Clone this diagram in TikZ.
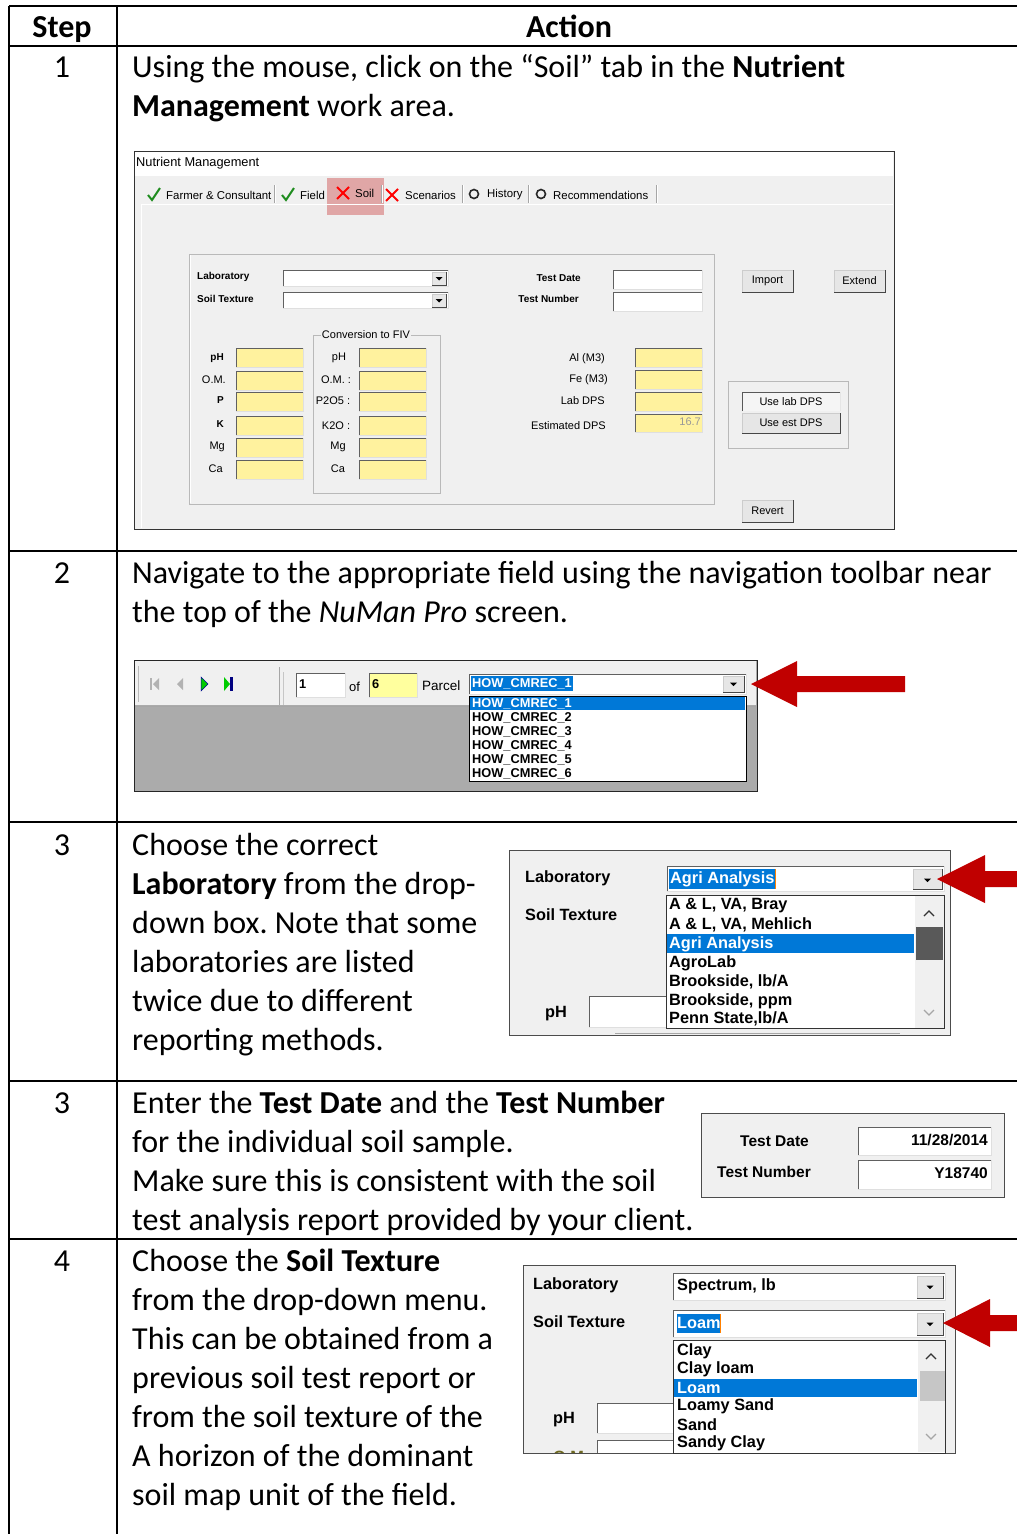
\documentclass[tikz,border=0pt]{standalone}
\usepackage{fontspec}
\setmainfont{Carlito}
\newfontfamily\uifont{Liberation Sans}
\frenchspacing
\definecolor{wingray}{HTML}{F0F0F0}
\definecolor{fieldyel}{HTML}{FFF29E}
\definecolor{lightyel}{HTML}{FFFF9E}
\definecolor{selblue}{HTML}{0078D7}
\definecolor{arrowred}{HTML}{C00000}
\definecolor{darkarea}{HTML}{ABABAB}
\definecolor{pinkhl}{HTML}{E0A6A6}
\definecolor{btnfill}{HTML}{E6E6E6}
\definecolor{okgreen}{HTML}{1E8C1E}
\newcommand\sunk[5][white]{%
  \fill[#1] (#2,#3) rectangle (#4,#5);
  \draw[gray!75!black] (#2,#5) -- (#2,#3) -- (#4,#3);
  \draw[gray!25] (#4,#3) -- (#4,#5) -- (#2,#5);}
\newcommand\wbtn[4]{%
  \fill[btnfill] (#1,#2) rectangle (#3,#4);
  \draw[gray!40] (#1,#4) -- (#1,#2) -- (#3,#2);
  \draw[gray!55!black] (#1,#4) -- (#3,#4) -- (#3,#2);}
\newcommand\ddtri[2]{\fill[shift={(#1,#2)}] (-3.5,-1.5) -- (3.5,-1.5) -- (0,2) -- cycle;}
\newcommand\redx[2]{\draw[red, line width=2pt, shift={(#1,#2)}] (-6,-6) -- (6,6) (-6,6) -- (6,-6);}
\newcommand\okmark[2]{\draw[okgreen, line width=2pt, shift={(#1,#2)}] (-6,0) -- (-2,5) -- (6,-7);}
\newcommand\ringicon[2]{\draw[black!85, line width=1.6pt, shift={(#1,#2)}] (0,0) circle (4.5);}
\newcommand\tabsep[1]{\draw[gray!70] (#1,185) -- (#1,203); \draw[white] (#1+1,185) -- (#1+1,203);}
\begin{document}
\begin{tikzpicture}[x=1pt,y=-1pt,
  tline/.style={line width=1.3pt, black},
  body/.style={anchor=base west, inner sep=0pt, font=\fontsize{32}{39}\selectfont},
  hdr/.style={anchor=base, inner sep=0pt, font=\fontsize{32}{39}\selectfont\bfseries},
  num/.style={anchor=base, inner sep=0pt, font=\fontsize{32}{39}\selectfont},
  ui/.style={inner sep=0pt, font=\uifont\fontsize{11}{13}\selectfont},
  tab/.style={inner sep=0pt, font=\uifont\fontsize{11.4}{13}\selectfont},
  uib/.style={inner sep=0pt, font=\uifont\fontsize{10}{12}\selectfont\bfseries},
  big/.style={inner sep=0pt, font=\uifont\fontsize{16.3}{19}\selectfont\bfseries},
  mid/.style={inner sep=0pt, font=\uifont\fontsize{15.5}{18}\selectfont\bfseries},
  mono/.style={inner sep=0pt, font=\uifont\fontsize{12.8}{14}\selectfont\bfseries},
  blockarrow/.style={fill=arrowred}]
\useasboundingbox (0,0) rectangle (1017,1534);
\fill[white] (0,0) rectangle (1017,1534);
% ---------------- table ----------------
\draw[tline] (9,6) -- (1017,6);
\draw[tline] (9,46) -- (1017,46);
\draw[tline] (9,551) -- (1017,551);
\draw[tline] (9,822) -- (1017,822);
\draw[tline] (9,1081) -- (1017,1081);
\draw[tline] (9,1239) -- (1017,1239);
\draw[tline] (9,6) -- (9,1534);
\draw[tline] (117,6) -- (117,1534);
\node[hdr] (hstep) at (62,37) {Step};
\node[hdr] (haction) at (569,37) {Action};
\node[num] (s1) at (62,77) {1};
\node[num] (s2) at (62,583) {2};
\node[num] (s3) at (62,855) {3};
\node[num] (s3b) at (62,1113) {3};
\node[num] (s4) at (62,1271) {4};
% row texts
\node[body] (t1a) at (132,77) {Using the mouse, click on the “Soil” tab in the \textbf{Nutrient}};
\node[body] (t1b) at (132,116) {\textbf{Management} work area.};
\node[body] (t2a) at (132,583) {Navigate to the appropriate field using the navigation toolbar near};
\node[body] (t2b) at (132,622) {the top of the \textit{NuMan Pro} screen.};
\node[body] (t3a) at (132,855) {Choose the correct};
\node[body] (t3b) at (132,894) {\textbf{Laboratory} from the drop-};
\node[body] (t3c) at (132,933) {down box. Note that some};
\node[body] (t3d) at (132,972) {laboratories are listed};
\node[body] (t3e) at (132,1011) {twice due to different};
\node[body] (t3f) at (132,1050) {reporting methods.};
\node[body] (t5a) at (132,1113) {Enter the \textbf{Test Date} and the \textbf{Test Number}};
\node[body] (t5b) at (132,1152) {for the individual soil sample.};
\node[body] (t5c) at (132,1191) {Make sure this is consistent with the soil};
\node[body] (t5d) at (132,1230) {test analysis report provided by your client.};
\node[body] (t4a) at (132,1271) {Choose the \textbf{Soil Texture}};
\node[body] (t4b) at (132,1310) {from the drop-down menu.};
\node[body] (t4c) at (132,1349) {This can be obtained from a};
\node[body] (t4d) at (132,1388) {previous soil test report or};
\node[body] (t4e) at (132,1427) {from the soil texture of the};
\node[body] (t4f) at (132,1466) {A horizon of the dominant};
\node[body] (t4g) at (132,1505) {soil map unit of the field.};
% ---------------- screenshot 1 ----------------
\draw[fill=wingray, draw=black!80, line width=1pt] (134,151) rectangle (894,529);
\fill[white] (135,152) rectangle (893,176);
\node[ui, anchor=west, font=\uifont\fontsize{12.8}{14}\selectfont] (title) at (136,163) {Nutrient Management};
\fill[pinkhl] (327,178) rectangle (384,215);
\draw[white, line width=1pt] (141,528) -- (141,204) -- (893,204);
\okmark{154}{195}
\node[tab, anchor=west] (tabfarm) at (166,195) {Farmer \& Consultant};
\tabsep{274}
\okmark{288}{195}
\node[tab, anchor=west] (tabfield) at (300,195) {Field};
\redx{343}{193}
\node[tab, anchor=west] (tabsoil) at (355,193) {Soil};
\tabsep{381}
\redx{392}{195}
\node[tab, anchor=west] (tabscen) at (405,195) {Scenarios};
\tabsep{462}
\ringicon{474}{194}
\node[tab, anchor=west] (tabhist) at (487,195) {History};
\tabsep{528}
\ringicon{541}{194}
\node[tab, anchor=west] (tabrec) at (553,195) {Recommendations};
\tabsep{656}
% group box
\draw[gray!55] (189,254) rectangle (714,504);
\draw[white] (190,255) -- (190,503);
\node[uib, anchor=west] (llab) at (197,277) {Laboratory};
\node[uib, anchor=west] (ltex) at (197,299) {Soil Texture};
\sunk{283}{270}{448}{286}
\wbtn{432}{272}{446}{285}\ddtri{439}{278.5}
\sunk{283}{292}{448}{308}
\wbtn{432}{294}{446}{307}\ddtri{439}{300.5}
\node[uib, anchor=east] (ltd) at (581,278) {Test Date};
\node[uib, anchor=east] (ltn) at (579,299) {Test Number};
\sunk{613}{270}{702}{289}
\sunk{613}{292}{702}{311}
\wbtn{742}{270}{793}{292}
\node[ui] (bimp) at (767.5,281) {Import};
\wbtn{834}{270}{885}{292}
\node[ui] (bext) at (859.5,281) {Extend};
% conversion group
\draw[gray!55] (313,335) rectangle (440,493);
\node[ui, fill=wingray, inner xsep=1pt] (conv) at (366,335) {Conversion to FIV};
\foreach \ya/\yb [count=\i] in {348/367, 371/390, 392/411, 416/435, 438/457, 460/479}{
  \sunk[fieldyel]{236}{\ya}{303}{\yb}
  \sunk[fieldyel]{359}{\ya}{426}{\yb}
}
\node[uib, anchor=east] (lph) at (224,358) {pH};
\node[ui, anchor=east] (lom) at (226,380) {O.M.};
\node[uib, anchor=east] (lp) at (224,400) {P};
\node[uib, anchor=east] (lk) at (224,424) {K};
\node[ui, anchor=east] (lmg) at (225,447) {Mg};
\node[ui, anchor=east] (lca) at (223,469) {Ca};
\node[ui] (cph) at (339,358) {pH};
\node[ui] (com) at (336,380) {O.M. :};
\node[ui] (cp) at (333,401) {P2O5 :};
\node[ui] (ck) at (336,426) {K2O :};
\node[ui] (cmg) at (338,447) {Mg};
\node[ui] (cca) at (338,469) {Ca};
\sunk[fieldyel]{635}{348}{702}{367}
\sunk[fieldyel]{635}{370}{702}{389}
\sunk[fieldyel]{635}{392}{702}{411}
\sunk[fieldyel]{635}{414}{702}{432}
\node[ui, anchor=east] (lal) at (605,359) {Al (M3)};
\node[ui, anchor=east] (lfe) at (608,380) {Fe (M3)};
\node[ui, anchor=east] (llabdps) at (605,401) {Lab DPS};
\node[ui, anchor=east] (lest) at (606,426) {Estimated DPS};
\node[ui, anchor=east, text=gray!80] (v167) at (701,422) {16.7};
\draw[gray!55] (728,381) rectangle (848,448);
\fill[white!92!gray] (742,392) rectangle (840,411);
\draw[gray!70!black] (742,411) -- (742,392) -- (840,392);
\draw[gray!20] (840,392) -- (840,411);
\node[ui] (blab) at (791,402) {Use lab DPS};
\wbtn{742}{413}{840}{433}
\node[ui] (best) at (791,423) {Use est DPS};
\wbtn{742}{500}{793}{522}
\node[ui] (brev) at (767.5,511) {Revert};
% ---------------- screenshot 2 ----------------
\draw[fill=darkarea, draw=black!85, line width=1pt] (134,660) rectangle (757,791);
\fill[wingray] (135,661) rectangle (756,705);
\draw[gray!70] (135,706) -- (756,706);
\draw[gray!55] (138,666) -- (138,702);
% nav icons
\fill[gray!60] (150,678) rectangle (152,690);
\fill[gray!60] (159,678) -- (159,690) -- (153,684) -- cycle;
\fill[gray!60] (183,678) -- (183,690) -- (177,684) -- cycle;
\fill[green!80!black] (201,677) -- (201,691) -- (208,684) -- cycle;
\draw[blue!60!black, line width=0.5pt] (201,677) -- (201,691) -- (208,684) -- cycle;
\fill[green!80!black] (224,677) -- (224,691) -- (230,684) -- cycle;
\fill[blue!50!black] (230,677) rectangle (232.5,691);
\draw[gray!70] (279,667) -- (279,705);
\draw[gray!45] (283,672) -- (283,705);
\sunk{296}{673}{345}{697}
\node[mono, anchor=west] (pnum) at (299,684) {1};
\node[ui, font=\uifont\fontsize{13}{15}\selectfont, anchor=west] (pof) at (349,687) {of};
\sunk[lightyel]{369}{673}{417}{697}
\node[mono, anchor=west] (ptot) at (372,684) {6};
\node[ui, font=\uifont\fontsize{13.5}{15}\selectfont, anchor=west] (pparcel) at (422,686) {Parcel};
\sunk{469}{674}{746}{694}
\fill[selblue] (471,676) rectangle (573,691);
\node[mono, anchor=west, text=white] (pcur) at (472,683.5) {HOW\_CMREC\_1};
\wbtn{723}{676}{744}{692}\ddtri{733.5}{684}
\draw[fill=white, draw=black] (469,696) rectangle (746,781);
\fill[selblue] (470,697) rectangle (745,710);
\foreach \yy/\k in {704/1, 718/2, 732/3, 746/4, 760/5, 774/6}{
  \ifnum\k=1
    \node[mono, anchor=west, text=white] (pi\k) at (472,\yy) {HOW\_CMREC\_\k};
  \else
    \node[mono, anchor=west] (pi\k) at (472,\yy) {HOW\_CMREC\_\k};
  \fi
}
\fill[blockarrow] (751,684) -- (797,661) -- (797,676) -- (905,676) -- (905,692) -- (797,692) -- (797,707) -- cycle;
% ---------------- screenshot 3 ----------------
\draw[fill=wingray, draw=gray!60!black, line width=1pt] (509,850) rectangle (950,1035);
\node[big, anchor=west] (l3lab) at (525,878) {Laboratory};
\node[big, anchor=west] (l3tex) at (525,915) {Soil Texture};
\node[big, anchor=west] (l3ph) at (545,1014) {pH};
\sunk{589}{996}{700}{1027}
\draw[gray!70] (615,1033) -- (900,1033);
\sunk{667}{866}{944}{891}
\fill[selblue] (669,869) rectangle (775,889);
\draw[orange, line width=1pt] (775.5,869) -- (775.5,889);
\node[big, anchor=west, text=white] (l3cur) at (670,879) {Agri Analysis};
\wbtn{913}{869}{942}{889}\ddtri{927.5}{880}
\draw[fill=white, draw=black!80] (666,895) rectangle (944,1028);
\fill[selblue] (667,934) rectangle (914,953);
\fill[wingray] (914.5,896) rectangle (943.5,1027.5);
\fill[gray!70!black] (916,927) rectangle (943,960);
\draw[black!80, line width=1.3pt] (924,916) -- (929,911) -- (934,916);
\draw[gray!70, line width=1.3pt] (924,1010) -- (929,1015) -- (934,1010);
\node[big, anchor=west] (l3i1) at (669,906) {A \& L, VA, Bray};
\node[big, anchor=west] (l3i2) at (669,925) {A \& L, VA, Mehlich};
\node[big, anchor=west, text=white] (l3i3) at (669,944) {Agri Analysis};
\node[big, anchor=west] (l3i4) at (669,963) {AgroLab};
\node[big, anchor=west] (l3i5) at (669,982) {Brookside, lb/A};
\node[big, anchor=west] (l3i6) at (669,1001) {Brookside, ppm};
\node[big, anchor=west] (l3i7) at (669,1019) {Penn State,lb/A};
\fill[blockarrow] (937,879) -- (985,855) -- (985,871) -- (1017,871) -- (1017,887) -- (985,887) -- (985,903) -- cycle;
% ---------------- screenshot 3b ----------------
\draw[fill=wingray, draw=gray!60!black, line width=1pt] (701,1113) rectangle (1004,1197);
\node[mid, anchor=west] (ltd2) at (740,1141) {Test Date};
\node[mid, anchor=west] (ltn2) at (717,1172) {Test Number};
\sunk{858}{1127}{991}{1155}
\sunk{858}{1160}{991}{1189}
\node[mid, anchor=east] (vtd) at (988,1140) {11/28/2014};
\node[mid, anchor=east] (vtn) at (988,1173) {Y18740};
% ---------------- screenshot 4 ----------------
\draw[fill=wingray, draw=gray!60!black, line width=1pt] (523,1265) rectangle (955,1453);
\begin{scope}
\clip (524,1266) rectangle (954,1452);
\node[big, anchor=west] (l4lab) at (533,1285) {Laboratory};
\node[big, anchor=west] (l4tex) at (533,1322) {Soil Texture};
\node[big, anchor=west] (l4ph) at (553,1420) {pH};
\node[big, anchor=west, text=olive!70!black] (l4om) at (553,1457) {O.M.};
\sunk{597}{1403}{674}{1433}
\sunk{597}{1440}{674}{1470}
\end{scope}
\sunk{673}{1273}{945}{1300}
\node[big, anchor=west] (l4cur1) at (677,1286) {Spectrum, lb};
\wbtn{917}{1276}{943}{1298}\ddtri{930}{1287}
\sunk{673}{1310}{945}{1337}
\fill[selblue] (677,1314) rectangle (720,1333);
\draw[orange, line width=1pt] (720.5,1314) -- (720.5,1333);
\node[big, anchor=west, text=white] (l4cur2) at (677,1323) {Loam};
\wbtn{917}{1313}{943}{1335}\ddtri{930}{1324}
\draw[fill=white, draw=black!80] (673,1340) rectangle (945,1453);
\fill[selblue] (674,1379) rectangle (917,1397);
\fill[wingray] (918,1341) rectangle (944.5,1452);
\fill[gray!45] (920,1371) rectangle (944.5,1401);
\draw[black!80, line width=1.3pt] (926,1359) -- (931,1354) -- (936,1359);
\draw[gray!70, line width=1.3pt] (926,1434) -- (931,1439) -- (936,1434);
\node[big, anchor=west] (l4i1) at (677,1351) {Clay};
\node[big, anchor=west] (l4i2) at (677,1369) {Clay loam};
\node[big, anchor=west, text=white] (l4i3) at (677,1388) {Loam};
\node[big, anchor=west] (l4i4) at (677,1406) {Loamy Sand};
\node[big, anchor=west] (l4i5) at (677,1425) {Sand};
\node[big, anchor=west] (l4i6) at (677,1443) {Sandy Clay};
\fill[blockarrow] (943,1323) -- (990,1299) -- (990,1315) -- (1017,1315) -- (1017,1331) -- (990,1331) -- (990,1347) -- cycle;
\end{tikzpicture}
\end{document}
